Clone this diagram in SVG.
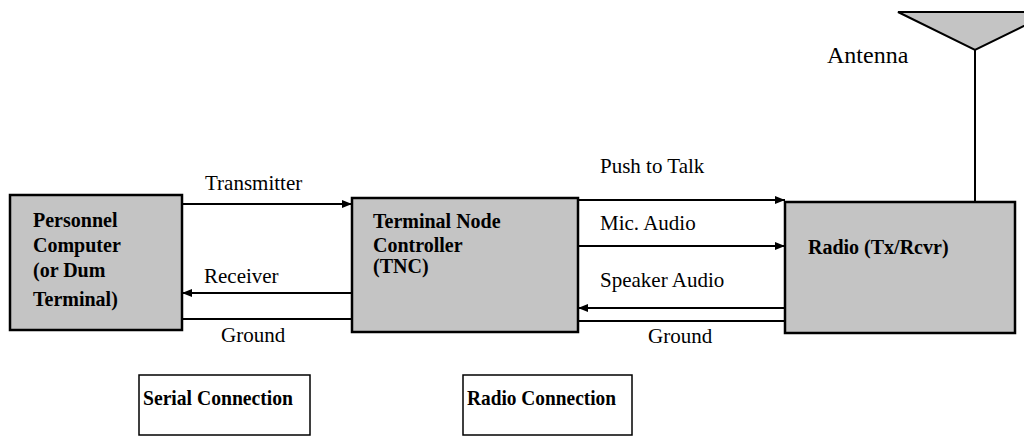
<svg xmlns="http://www.w3.org/2000/svg" width="1024" height="436" viewBox="0 0 1024 436">
<defs>
<marker id="arr" viewBox="0 0 10 8" refX="10" refY="4" markerWidth="10" markerHeight="8" markerUnits="userSpaceOnUse" orient="auto">
<path d="M0,0 L10,4 L0,8 Z" fill="#000"/>
</marker>
</defs>
<style>
.box{fill:#c4c4c4;stroke:#000;stroke-width:2.5}
.lbl{fill:#fff;stroke:#000;stroke-width:1.5}
.w{stroke:#000;stroke-width:1.8;fill:none}
.t{font-family:"Liberation Serif","Times New Roman",serif;font-size:21px;fill:#000}
.b{font-family:"Liberation Serif","Times New Roman",serif;font-size:20px;font-weight:bold;fill:#000}
.c{font-family:"Liberation Serif","Times New Roman",serif;font-size:22px;font-weight:bold;fill:#000}
</style>
<rect width="1024" height="436" fill="#fff"/>
<g id="pc">
<rect class="box" x="10" y="195" width="172" height="135"/>
<text class="b" x="33" y="227">Personnel</text>
<text class="b" x="33" y="252">Computer</text>
<text class="b" x="33" y="277">(or Dum</text>
<text class="b" x="33" y="306">Terminal)</text>
</g>
<g id="tnc">
<rect class="box" x="352" y="198" width="226" height="134"/>
<text class="b" x="373" y="228">Terminal Node</text>
<text class="b" x="373" y="252">Controller</text>
<text class="b" x="373" y="273">(TNC)</text>
</g>
<g id="radio">
<rect class="box" x="785" y="202" width="230" height="131"/>
<text class="b" x="808" y="254">Radio (Tx/Rcvr)</text>
</g>
<g id="antenna">
<polygon points="898,12 1052,12 975,50" fill="#c4c4c4" stroke="#000" stroke-width="2"/>
<line class="w" x1="975" y1="50" x2="975" y2="202" style="stroke-width:2"/>
<text class="t" x="827" y="63" style="font-size:24px">Antenna</text>
</g>
<g id="serial-label">
<rect class="lbl" x="139" y="375" width="171" height="60"/>
<text class="c" x="143" y="405" textLength="150" lengthAdjust="spacingAndGlyphs">Serial Connection</text>
</g>
<g id="radio-label">
<rect class="lbl" x="463" y="375" width="169" height="60"/>
<text class="c" x="467" y="405" textLength="149" lengthAdjust="spacingAndGlyphs">Radio Connection</text>
</g>
<g id="connectors">
<line class="w" x1="182" y1="204" x2="352" y2="204" marker-end="url(#arr)"/>
<line class="w" x1="352" y1="293" x2="182" y2="293" marker-end="url(#arr)"/>
<line class="w" x1="182" y1="319" x2="352" y2="319"/>
<line class="w" x1="578" y1="200" x2="785" y2="200" marker-end="url(#arr)"/>
<line class="w" x1="578" y1="246" x2="785" y2="246" marker-end="url(#arr)"/>
<line class="w" x1="785" y1="308" x2="578" y2="308" marker-end="url(#arr)"/>
<line class="w" x1="578" y1="321" x2="785" y2="321"/>
<text class="t" x="205" y="190">Transmitter</text>
<text class="t" x="204" y="283">Receiver</text>
<text class="t" x="221" y="342">Ground</text>
<text class="t" x="600" y="173">Push to Talk</text>
<text class="t" x="600" y="230">Mic. Audio</text>
<text class="t" x="600" y="287">Speaker Audio</text>
<text class="t" x="648" y="343">Ground</text>
</g>
</svg>
